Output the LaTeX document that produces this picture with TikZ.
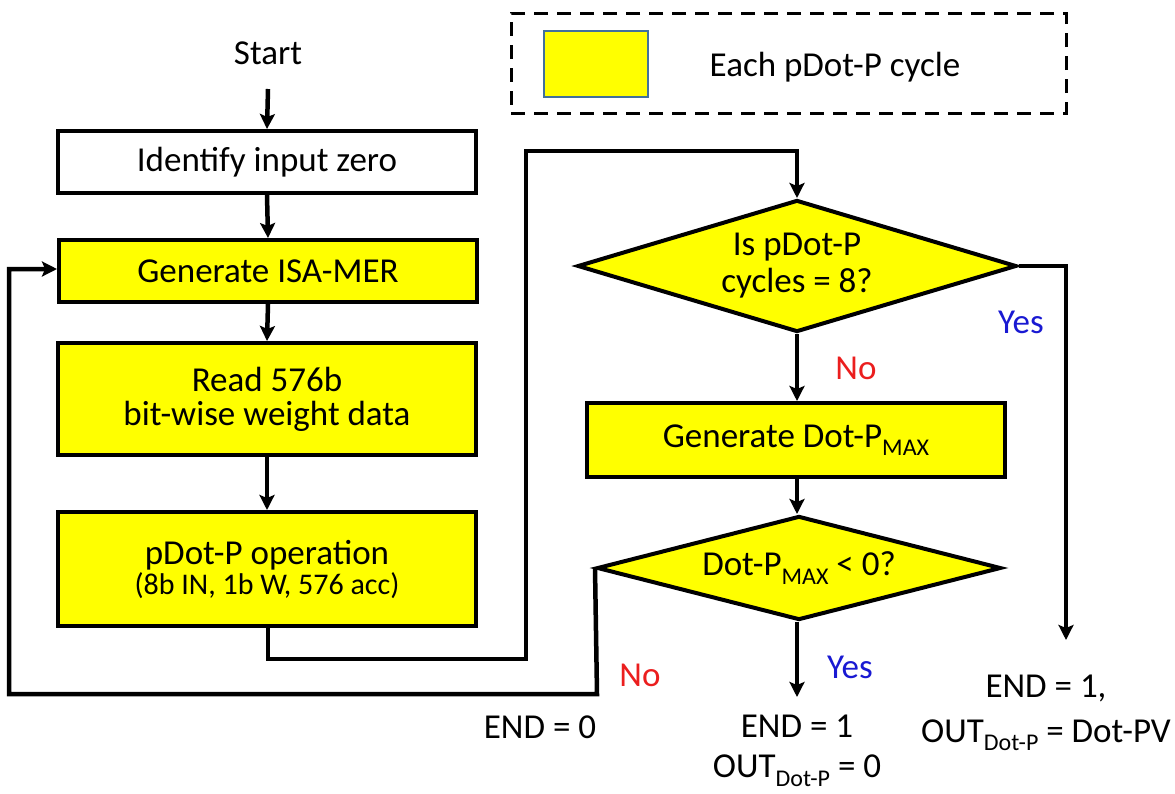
\documentclass[tikz,border=0pt]{standalone}
\usepackage{fontspec}
\setmainfont{Carlito}
\usetikzlibrary{shapes.geometric,arrows.meta}
\definecolor{yel}{RGB}{255,255,0}
\definecolor{legblue}{RGB}{65,113,156}
\definecolor{nored}{RGB}{235,30,30}
\definecolor{yesblue}{RGB}{25,25,210}
\newcommand{\mysubx}[1]{\raisebox{-0.24em}{\fontsize{24}{24}\selectfont #1}}
\begin{document}
\begin{tikzpicture}[x=1pt,y=-1pt,line join=miter,
  every node/.style={font=\fontsize{35}{36}\selectfont},
  box/.style={draw,line width=4pt,fill=yel,minimum width=418pt,minimum height=#1,inner sep=0pt,align=center},
  dia/.style={diamond,draw,line width=4pt,fill=yel,inner sep=0pt,align=center,aspect=3},
  arr/.style={line width=4.5pt,-{Stealth[length=15pt,width=15pt,inset=3pt]}},
  lbl/.style={inner sep=0pt}]
\useasboundingbox (0,0) rectangle (1175,793);
% legend
\node[draw,line width=3pt,dash pattern=on 14pt off 9pt,minimum width=555pt,minimum height=100pt,inner sep=0pt] (legend) at (788.5,63) {};
\node[draw=legblue,line width=2.5pt,fill=yel,minimum width=104pt,minimum height=66pt,inner sep=0pt] (legbox) at (596,64) {};
\node[lbl] (legtxt) at (835,67) {Each pDot-P cycle};
% left column
\node[lbl] (start) at (268,53) {Start};
\node[box=62pt,fill=white] (ident) at (267,162) {Identify input zero};
\node[box=62pt] (isa) at (268,271) {Generate ISA-MER};
\node[box=112pt] (read) at (267,399) {Read 576b\\[-2pt]bit-wise weight data};
\node[box=114pt] (pdot) at (267,569) {pDot-P operation\\[-6pt]{\fontsize{30}{34}\selectfont (8b IN, 1b W, 576 acc)}};
% right column
\node[dia,minimum width=439pt,minimum height=132pt] (d1) at (797,266) {Is pDot-P\\[1pt]cycles = 8?};
\node[box=74pt] (dmax) at (796,440) {Generate Dot-P\mysubx{MAX}};
\node[dia,minimum width=404pt,minimum height=104pt] (d2) at (799,568) {Dot-P\mysubx{MAX} < 0?};
% labels
\node[lbl,text=yesblue] (yes1) at (1021,322) {Yes};
\node[lbl,text=nored] (no1) at (856,368) {No};
\node[lbl,text=yesblue] (yes2) at (850,667) {Yes};
\node[lbl,text=nored] (no2) at (640,675) {No};
\node[lbl] (end0) at (540,727) {END = 0};
\node[lbl,align=center] (end1) at (797,751) {END = 1\\[4pt]OUT\mysubx{Dot-P} = 0};
\node[lbl,align=center] (end2) at (1046,713) {END = 1,\\[9pt]OUT\mysubx{Dot-P} = Dot-PV};
% coordinates
\coordinate (c1) at (268,659);
\coordinate (c2) at (526,659);
\coordinate (c3) at (526,151);
\coordinate (c4) at (797,151);
\coordinate (e2) at (1066,640);
\coordinate (e1) at (797,697);
\coordinate (l1) at (597,694);
\coordinate (l2) at (9,694);
\coordinate (l3) at (9,269);
% connectors
\draw[arr] ([yshift=-36pt]start.center) -- (ident.north);
\draw[arr] (ident.south) -- (isa.north);
\draw[arr] (isa.south) -- (read.north);
\draw[arr] (read.south) -- (pdot.north);
\draw[arr] (pdot.south -| c1) -- (c1) -- (c2) -- (c3) -- (c4) -- (d1.north);
\draw[arr] (d1.east) -| (e2);
\draw[arr] (d1.south) -- (dmax.north -| d1.south);
\draw[arr] (dmax.south -| d1.south) -- (d2.north -| d1.south);
\draw[arr] (d2.south -| e1) -- (e1);
\draw[arr] (d2.west) -- (l1) -- (l2) -- (l3) -- (l3 -| isa.west);
\end{tikzpicture}
\end{document}
